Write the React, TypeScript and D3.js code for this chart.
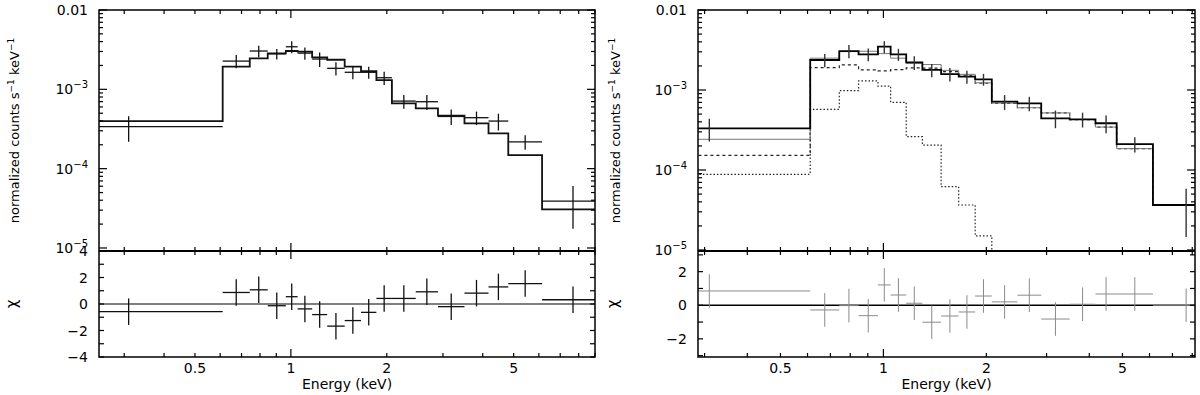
import React, { useEffect, useRef } from 'react';
import * as d3 from 'd3';

// Shared energy binning (keV), same for both spectra
const binEdges = [0.157, 0.611, 0.743, 0.846, 0.964, 1.05, 1.166, 1.30, 1.475, 1.66, 1.855, 2.075, 2.465, 2.894, 3.505, 4.17, 4.81, 6.14, 9.6];

// Left spectrum: data, 1-sigma errors, folded model, residuals
const leftData = [3.38e-4, 2.27e-3, 3.04e-3, 2.80e-3, 3.44e-3, 2.86e-3, 2.41e-3, 1.84e-3, 1.64e-3, 1.64e-3, 1.40e-3, 7.11e-4, 6.98e-4, 4.55e-4, 4.39e-4, 3.98e-4, 2.18e-4, 3.9e-5];
const leftErr = [1.2e-4, 4.3e-4, 5.0e-4, 4.2e-4, 6.0e-4, 5.0e-4, 5.0e-4, 3.5e-4, 3.0e-4, 2.8e-4, 2.7e-4, 1.4e-4, 1.5e-4, 1.0e-4, 8.5e-5, 9.5e-5, 4.5e-5, 2.15e-5];
const leftModel = [3.98e-4, 1.93e-3, 2.46e-3, 2.84e-3, 3.04e-3, 2.98e-3, 2.53e-3, 2.36e-3, 1.93e-3, 1.70e-3, 1.31e-3, 6.66e-4, 5.76e-4, 4.65e-4, 3.73e-4, 2.79e-4, 1.48e-4, 3.07e-5];
const leftChi = [-0.58, 0.87, 1.07, -0.13, 0.55, -0.37, -0.8, -1.67, -1.25, -0.63, 0.42, 0.42, 0.92, -0.2, 0.82, 1.29, 1.54, 0.32];

// Right spectrum: data, errors, total model and its two components, residuals
const rightData = [3.32e-4, 2.37e-3, 3.07e-3, 2.79e-3, 3.48e-3, 2.79e-3, 2.21e-3, 1.78e-3, 1.58e-3, 1.47e-3, 1.36e-3, 7.14e-4, 6.82e-4, 4.43e-4, 4.30e-4, 3.84e-4, 2.11e-4, 3.65e-5];
const rightErr = [1.05e-4, 4.5e-4, 5.8e-4, 5.0e-4, 6.0e-4, 4.8e-4, 4.3e-4, 3.4e-4, 3.0e-4, 2.7e-4, 2.3e-4, 1.5e-4, 1.4e-4, 1.1e-4, 9.0e-5, 9.5e-5, 4.5e-5, 2.2e-5];
const rightModel = [2.42e-4, 2.5e-3, 3.02e-3, 3.05e-3, 2.85e-3, 2.5e-3, 2.15e-3, 2.08e-3, 1.76e-3, 1.57e-3, 1.23e-3, 6.86e-4, 6.0e-4, 5.17e-4, 4.27e-4, 3.44e-4, 1.85e-4, 3.6e-5];
const rightPowerlaw = [1.52e-4, 1.9e-3, 2.06e-3, 1.78e-3, 1.73e-3, 1.8e-3, 1.89e-3, 1.88e-3, 1.70e-3, 1.53e-3, 1.215e-3, 6.8e-4, 6.0e-4, 5.17e-4, 4.27e-4, 3.44e-4, 1.85e-4, 3.6e-5];
const rightThermal = [8.84e-5, 5.74e-4, 9.8e-4, 1.3e-3, 1.12e-3, 7.02e-4, 2.61e-4, 2.05e-4, 6.18e-5, 3.65e-5, 1.5e-5, 4e-6, 2e-6, 1e-6, 5e-7, 3e-7, 1e-7, 1e-8];
const rightChi = [0.85, -0.28, -0.02, -0.62, 1.21, 0.61, 0.12, -1.01, -0.64, -0.4, 0.55, 0.2, 0.6, -0.82, 0.06, 0.67, 0.67, 0.0];

// Tick labels
const energyLabels = [0.5, 1, 2, 5];
const fluxExponents = [-2, -3, -4, -5];
const leftChiLabels = [-4, -2, 0, 2, 4];
const rightChiLabels = [-2, 0, 2];

const TOP = 10;
const MID = 251;
const BOT = 357;
const FONT = "'DejaVu Sans', sans-serif";

const drawPanel = (svg, p) => {
  const x = d3.scaleLog().domain(p.eDomain).range([p.x0, p.x1]);
  const y = d3.scaleLog().domain(p.fluxDomain).range([MID, TOP]);
  const r = d3.scaleLinear().domain(p.chiDomain).range([BOT, MID]);

  const defs = svg.append('defs');
  defs.append('clipPath').attr('id', `top-${p.id}`)
    .append('rect').attr('x', p.x0).attr('y', TOP).attr('width', p.x1 - p.x0).attr('height', MID - TOP);
  defs.append('clipPath').attr('id', `bot-${p.id}`)
    .append('rect').attr('x', p.x0).attr('y', MID).attr('width', p.x1 - p.x0).attr('height', BOT - MID);

  const bins = binEdges.slice(0, -1).map((lo, i) => ({ i, lo, hi: binEdges[i + 1], mid: Math.sqrt(lo * binEdges[i + 1]) }));

  const step = (vals) => {
    const pts = bins.map(b => [b.lo, vals[b.i]]);
    pts.push([binEdges[binEdges.length - 1], vals[vals.length - 1]]);
    return d3.line().x(d => x(d[0])).y(d => y(d[1])).curve(d3.curveStepAfter)(pts);
  };

  const top = svg.append('g').attr('clip-path', `url(#top-${p.id})`);
  const bot = svg.append('g').attr('clip-path', `url(#bot-${p.id})`);

  if (p.kind === 'left') {
    // model histogram
    top.append('path').attr('d', step(leftModel)).attr('fill', 'none')
      .attr('stroke', '#111').attr('stroke-width', 1.8);
    // data crosses
    const cross = top.selectAll('.cross').data(bins).enter().append('g');
    cross.append('line')
      .attr('x1', d => x(d.lo)).attr('x2', d => x(d.hi))
      .attr('y1', d => y(leftData[d.i])).attr('y2', d => y(leftData[d.i]))
      .attr('stroke', '#111').attr('stroke-width', 1.3);
    cross.append('line')
      .attr('x1', d => x(d.mid)).attr('x2', d => x(d.mid))
      .attr('y1', d => y(leftData[d.i] - leftErr[d.i])).attr('y2', d => y(leftData[d.i] + leftErr[d.i]))
      .attr('stroke', '#111').attr('stroke-width', 1.3);
  } else {
    // components
    top.append('path').attr('d', step(rightPowerlaw)).attr('fill', 'none')
      .attr('stroke', '#222').attr('stroke-width', 1.2).attr('stroke-dasharray', '3,3');
    top.append('path').attr('d', step(rightThermal)).attr('fill', 'none')
      .attr('stroke', '#222').attr('stroke-width', 1.2).attr('stroke-dasharray', '1.5,2');
    // total model
    top.append('path').attr('d', step(rightModel)).attr('fill', 'none')
      .attr('stroke', '#777').attr('stroke-width', 1);
    // data histogram with error bars
    top.append('path').attr('d', step(rightData)).attr('fill', 'none')
      .attr('stroke', '#000').attr('stroke-width', 1.8);
    top.selectAll('.err').data(bins).enter().append('line')
      .attr('x1', d => x(d.mid)).attr('x2', d => x(d.mid))
      .attr('y1', d => y(rightData[d.i] - rightErr[d.i])).attr('y2', d => y(rightData[d.i] + rightErr[d.i]))
      .attr('stroke', '#333').attr('stroke-width', 1.4);
  }

  // residuals
  const chi = p.kind === 'left' ? leftChi : rightChi;
  const resColor = p.kind === 'left' ? '#111' : '#8a8a8a';
  const resWidth = p.kind === 'left' ? 1.3 : 1;
  bot.append('line').attr('x1', p.x0).attr('x2', p.x1).attr('y1', r(0)).attr('y2', r(0))
    .attr('stroke', '#000').attr('stroke-width', p.kind === 'left' ? 1.2 : 1.6);
  const rc = bot.selectAll('.res').data(bins).enter().append('g');
  rc.append('line')
    .attr('x1', d => x(d.lo)).attr('x2', d => x(d.hi))
    .attr('y1', d => r(chi[d.i])).attr('y2', d => r(chi[d.i]))
    .attr('stroke', resColor).attr('stroke-width', resWidth);
  rc.append('line')
    .attr('x1', d => x(d.mid)).attr('x2', d => x(d.mid))
    .attr('y1', d => r(chi[d.i] - 1)).attr('y2', d => r(chi[d.i] + 1))
    .attr('stroke', resColor).attr('stroke-width', resWidth);

  // frames
  const axes = svg.append('g').attr('stroke', '#000').attr('fill', 'none');
  axes.append('rect').attr('x', p.x0).attr('y', TOP).attr('width', p.x1 - p.x0).attr('height', BOT - TOP).attr('stroke-width', 1.5);
  axes.append('line').attr('x1', p.x0).attr('x2', p.x1).attr('y1', MID).attr('y2', MID).attr('stroke-width', 2);

  // energy ticks
  const isDecade = v => Math.abs(Math.log10(v) - Math.round(Math.log10(v))) < 1e-6;
  x.ticks().forEach(t => {
    const len = isDecade(t) ? 8 : 4;
    const xx = x(t);
    axes.append('line').attr('x1', xx).attr('x2', xx).attr('y1', TOP).attr('y2', TOP + len).attr('stroke-width', 1.2);
    axes.append('line').attr('x1', xx).attr('x2', xx).attr('y1', MID - len).attr('y2', MID + len).attr('stroke-width', 1.2);
    axes.append('line').attr('x1', xx).attr('x2', xx).attr('y1', BOT - len).attr('y2', BOT).attr('stroke-width', 1.2);
  });

  // flux ticks
  y.ticks().forEach(t => {
    const len = isDecade(t) ? 8 : 4;
    const yy = y(t);
    axes.append('line').attr('x1', p.x0).attr('x2', p.x0 + len).attr('y1', yy).attr('y2', yy).attr('stroke-width', 1.2);
    axes.append('line').attr('x1', p.x1 - len).attr('x2', p.x1).attr('y1', yy).attr('y2', yy).attr('stroke-width', 1.2);
  });

  // residual ticks
  d3.range(Math.ceil(p.chiDomain[0]), Math.floor(p.chiDomain[1]) + 1).forEach(t => {
    const yy = r(t);
    axes.append('line').attr('x1', p.x0).attr('x2', p.x0 + 5).attr('y1', yy).attr('y2', yy).attr('stroke-width', 1.2);
    axes.append('line').attr('x1', p.x1 - 5).attr('x2', p.x1).attr('y1', yy).attr('y2', yy).attr('stroke-width', 1.2);
  });

  // labels
  const txt = svg.append('g').attr('fill', '#000').style('font-family', FONT);

  energyLabels.forEach(e => {
    txt.append('text').attr('x', x(e)).attr('y', 373).attr('text-anchor', 'middle')
      .style('font-size', '14px').text(e);
  });
  txt.append('text').attr('x', (p.x0 + p.x1) / 2).attr('y', 389).attr('text-anchor', 'middle')
    .style('font-size', '14px').text('Energy (keV)');

  fluxExponents.forEach(e => {
    const t = txt.append('text').attr('x', p.x0 - 11).attr('y', y(Math.pow(10, e)) + 5)
      .attr('text-anchor', 'end').style('font-size', '14px');
    if (e === -2) {
      t.text('0.01');
    } else {
      t.append('tspan').text('10');
      t.append('tspan').attr('dy', -6).style('font-size', '10px').text(`−${-e}`);
    }
  });

  p.chiLabels.forEach(v => {
    txt.append('text').attr('x', p.x0 - 11).attr('y', r(v) + 5).attr('text-anchor', 'end')
      .style('font-size', '14px').text(v < 0 ? `−${-v}` : `${v}`);
  });

  const title = txt.append('text')
    .attr('transform', `translate(${p.titleX},${(TOP + MID) / 2}) rotate(-90)`)
    .attr('text-anchor', 'middle').style('font-size', '13px');
  title.append('tspan').text('normalized counts s');
  title.append('tspan').attr('dy', -5).style('font-size', '9px').text('−1');
  title.append('tspan').attr('dy', 5).text(' keV');
  title.append('tspan').attr('dy', -5).style('font-size', '9px').text('−1');

  txt.append('text')
    .attr('transform', `translate(${p.titleX - 2},${(MID + BOT) / 2}) rotate(-90)`)
    .attr('text-anchor', 'middle').style('font-size', '15px').text('χ');
};

const App = () => {
  const ref = useRef(null);

  useEffect(() => {
    if (!ref.current) return;
    const svg = d3.select(ref.current);
    svg.selectAll('*').remove();

    drawPanel(svg, {
      id: 'l', kind: 'left', x0: 99, x1: 595, titleX: 19,
      eDomain: [0.25, 9.0], fluxDomain: [Math.pow(10, -5.038), 1e-2], chiDomain: [-4, 4],
      chiLabels: leftChiLabels,
    });
    drawPanel(svg, {
      id: 'r', kind: 'right', x0: 698, x1: 1195, titleX: 620,
      eDomain: [0.287, 8.15], fluxDomain: [Math.pow(10, -5.0125), 1e-2], chiDomain: [-3.08, 3.23],
      chiLabels: rightChiLabels,
    });
  }, []);

  return (
    <svg ref={ref} width={1200} height={395}
      style={{ position: 'absolute', left: 0, top: 0, background: '#fff' }} />
  );
};

export default App;
